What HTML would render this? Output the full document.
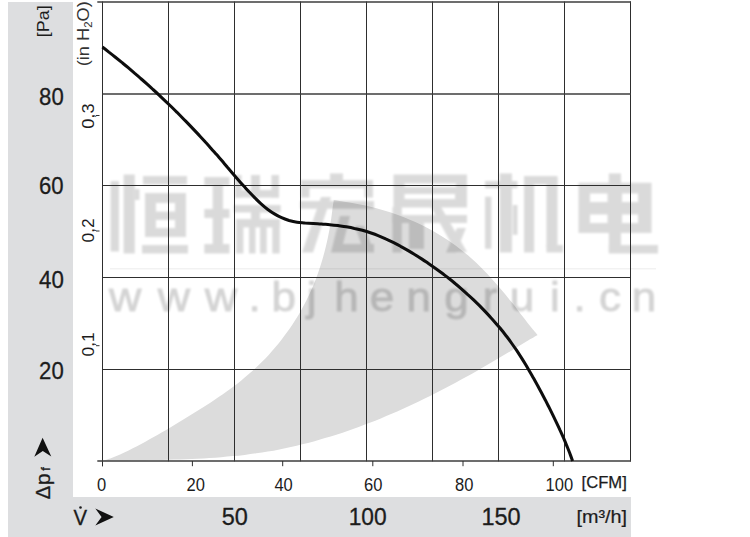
<!DOCTYPE html>
<html><head><meta charset="utf-8"><title>Fan curve</title>
<style>
html,body{margin:0;padding:0;background:#fff;}
body{width:750px;height:537px;overflow:hidden;font-family:"Liberation Sans",sans-serif;}
svg{display:block;}
text{font-family:"Liberation Sans",sans-serif;fill:#1c1c1c;}
</style></head><body>
<svg width="750" height="537" viewBox="0 0 750 537">
<defs>
<filter id="b1" x="-5%" y="-5%" width="110%" height="110%"><feGaussianBlur stdDeviation="1.2"/></filter>
<filter id="b2" x="-5%" y="-20%" width="110%" height="140%"><feGaussianBlur stdDeviation="1.0"/></filter>
</defs>
<rect width="750" height="537" fill="#fff"/>
<!-- gray L band -->
<path d="M8 2H73V497H631V537H8Z" fill="#dddee0"/>
<!-- shaded operating region -->
<path d="M102.5 461.0 C104.0 460.5 108.6 459.1 111.5 458.0 C114.4 456.9 117.2 455.6 120.1 454.4 C122.9 453.1 125.7 451.8 128.6 450.4 C131.4 449.0 134.2 447.6 137.0 446.2 C139.8 444.7 142.6 443.2 145.4 441.7 C148.2 440.2 151.0 438.6 153.7 437.1 C156.5 435.5 159.3 433.9 162.0 432.3 C164.8 430.7 167.5 429.1 170.3 427.4 C173.0 425.8 175.7 424.1 178.4 422.5 C181.2 420.8 183.9 419.2 186.6 417.5 C189.3 415.8 192.0 414.2 194.7 412.5 C197.4 410.8 200.1 409.2 202.8 407.5 C205.4 405.8 208.1 404.1 210.7 402.4 C213.4 400.6 216.0 398.9 218.6 397.1 C221.2 395.3 223.8 393.6 226.3 391.7 C228.9 389.9 231.4 388.0 233.9 386.2 C236.4 384.3 238.9 382.3 241.3 380.4 C243.8 378.4 246.2 376.4 248.5 374.3 C250.9 372.3 253.3 370.2 255.6 368.1 C257.9 365.9 260.1 363.7 262.3 361.5 C264.6 359.3 266.7 357.0 268.9 354.7 C271.0 352.4 273.1 350.0 275.1 347.6 C277.2 345.2 279.2 342.7 281.1 340.2 C283.1 337.7 285.0 335.2 286.8 332.6 C288.7 330.1 290.5 327.4 292.3 324.8 C294.0 322.2 295.7 319.5 297.4 316.8 C299.0 314.1 300.6 311.3 302.1 308.5 C303.7 305.8 305.1 303.0 306.6 300.1 C308.0 297.3 309.3 294.5 310.6 291.6 C311.9 288.7 313.2 285.8 314.4 282.9 C315.5 279.9 316.7 277.0 317.7 274.0 C318.8 271.0 319.8 268.0 320.7 265.0 C321.7 262.0 322.6 259.0 323.4 255.9 C324.3 252.9 325.1 249.8 325.8 246.8 C326.5 243.7 327.2 240.6 327.9 237.5 C328.5 234.4 329.1 231.3 329.7 228.2 C330.2 225.1 330.7 221.9 331.2 218.8 C331.6 215.7 332.0 212.5 332.4 209.4 C332.8 206.2 333.6 201.6 333.8 200.0 C335.5 200.3 340.7 201.1 344.2 201.7 C347.7 202.2 351.3 202.7 354.8 203.4 C358.3 204.0 361.8 204.7 365.3 205.5 C368.7 206.2 372.2 207.1 375.6 208.0 C379.0 208.9 382.4 209.9 385.8 210.9 C389.2 211.9 392.5 213.0 395.8 214.2 C399.1 215.4 402.4 216.6 405.7 217.9 C408.9 219.2 412.1 220.6 415.3 222.0 C418.5 223.5 421.6 225.0 424.7 226.6 C427.8 228.2 430.9 229.8 433.9 231.5 C437.0 233.3 440.0 235.0 442.9 236.9 C445.8 238.8 448.7 240.7 451.6 242.7 C454.4 244.7 457.3 246.7 460.0 248.9 C462.8 251.0 465.5 253.2 468.2 255.5 C470.8 257.8 473.4 260.1 476.0 262.5 C478.6 265.0 481.1 267.4 483.5 270.0 C486.0 272.5 488.4 275.1 490.8 277.7 C493.2 280.3 495.6 283.0 497.9 285.7 C500.2 288.3 502.5 291.1 504.8 293.8 C507.0 296.5 509.3 299.3 511.5 302.1 C513.7 304.8 515.9 307.6 518.0 310.4 C520.2 313.2 522.4 316.0 524.5 318.7 C526.6 321.5 528.7 324.3 530.9 327.0 C533.0 329.7 536.5 333.7 537.6 335.0 C535.9 336.0 530.6 339.0 527.2 341.0 C523.9 343.0 520.7 345.0 517.3 347.0 C514.0 349.1 510.7 351.1 507.3 353.1 C504.0 355.1 500.6 357.1 497.2 359.1 C493.8 361.1 490.5 363.1 487.0 365.0 C483.6 367.0 480.2 369.0 476.8 370.9 C473.3 372.9 469.9 374.8 466.4 376.7 C463.0 378.6 459.5 380.5 456.0 382.4 C452.5 384.3 449.0 386.2 445.5 388.0 C441.9 389.9 438.4 391.7 434.9 393.5 C431.3 395.3 427.8 397.1 424.2 398.8 C420.6 400.6 417.0 402.3 413.4 404.0 C409.9 405.7 406.2 407.3 402.6 409.0 C399.0 410.6 395.4 412.2 391.7 413.8 C388.1 415.3 384.4 416.9 380.8 418.4 C377.1 419.9 373.4 421.3 369.8 422.8 C366.1 424.2 362.4 425.6 358.7 427.0 C355.0 428.3 351.2 429.6 347.5 430.9 C343.8 432.2 340.0 433.5 336.3 434.7 C332.5 435.9 328.8 437.0 325.0 438.1 C321.2 439.3 317.5 440.3 313.7 441.4 C309.9 442.4 306.1 443.4 302.3 444.3 C298.5 445.3 294.7 446.2 290.9 447.0 C287.0 447.9 283.2 448.7 279.4 449.4 C275.5 450.2 271.7 450.9 267.8 451.5 C264.0 452.2 260.1 452.8 256.2 453.3 C252.4 453.9 248.5 454.4 244.6 454.9 C240.7 455.3 236.8 455.8 232.9 456.1 C229.0 456.5 225.1 456.9 221.2 457.2 C217.3 457.5 213.4 457.8 209.4 458.0 C205.5 458.3 201.6 458.5 197.6 458.7 C193.7 458.9 189.7 459.1 185.8 459.2 C181.8 459.4 177.9 459.5 173.9 459.6 C170.0 459.8 166.0 459.8 162.0 459.9 C158.0 460.0 154.1 460.1 150.1 460.1 C146.1 460.2 142.1 460.3 138.1 460.3 C134.1 460.4 130.1 460.4 126.1 460.5 C122.1 460.5 118.0 460.5 114.1 460.6 C110.2 460.7 104.4 460.9 102.5 461.0 Z" fill="#dcdcdc"/>
<!-- watermark -->
<g fill="#000" opacity="0.14" filter="url(#b1)"><rect x="110.6" y="181.0" width="8.4" height="70.5"/><rect x="123.6" y="174.5" width="11.2" height="79.0"/><rect x="134.8" y="189.0" width="4.7" height="11.0"/><rect x="143.0" y="176.0" width="44.0" height="8.5"/><rect x="142.0" y="245.0" width="46.0" height="8.5"/><rect x="204.3" y="177.0" width="25.2" height="8.5"/><rect x="204.3" y="209.0" width="25.2" height="9.0"/><rect x="204.3" y="244.0" width="25.2" height="9.5"/><rect x="212.7" y="177.0" width="10.3" height="75.5"/><rect x="235.0" y="175.0" width="6.5" height="22.6"/><rect x="251.0" y="175.0" width="9.0" height="22.6"/><rect x="271.4" y="175.0" width="7.6" height="22.6"/><rect x="235.0" y="190.0" width="44.0" height="7.6"/><rect x="234.0" y="205.0" width="46.7" height="7.5"/><rect x="251.0" y="212.0" width="9.0" height="8.0"/><rect x="236.0" y="219.0" width="43.7" height="8.4"/><rect x="236.0" y="219.0" width="7.4" height="34.5"/><rect x="249.0" y="219.0" width="6.5" height="34.5"/><rect x="260.0" y="219.0" width="6.7" height="34.5"/><rect x="272.3" y="219.0" width="7.4" height="34.5"/><rect x="330.0" y="173.4" width="13.0" height="7.6"/><rect x="301.0" y="180.0" width="72.0" height="8.3"/><rect x="301.0" y="188.0" width="8.5" height="9.6"/><rect x="364.5" y="188.0" width="8.5" height="9.6"/><rect x="300.0" y="201.0" width="74.0" height="7.8"/><rect x="392.5" y="207.0" width="9.3" height="45.5"/><rect x="392.5" y="215.0" width="74.5" height="8.0"/><rect x="409.0" y="223.0" width="15.0" height="26.0"/><rect x="485.0" y="181.0" width="32.5" height="7.3"/><rect x="499.8" y="173.4" width="12.2" height="79.1"/><rect x="485.0" y="196.7" width="6.4" height="52.1"/><rect x="512.8" y="205.0" width="4.7" height="29.8"/><rect x="524.0" y="176.0" width="33.5" height="8.5"/><rect x="524.0" y="178.0" width="10.2" height="74.5"/><rect x="546.4" y="178.0" width="11.1" height="69.0"/><rect x="546.4" y="245.0" width="16.6" height="7.5"/><rect x="608.8" y="173.4" width="12.2" height="12.1"/><rect x="608.8" y="233.0" width="12.2" height="19.5"/><rect x="608.8" y="245.0" width="49.2" height="8.5"/><path fill-rule="evenodd" d="M145 193H186V237H145Z M156 203H175V211.5H156Z M156 220H175V228H156Z"/><path d="M321 197H331L313 252.5H302Z"/><path d="M340 216H350L343 244H374V252.5H331Z"/><path d="M355 226H364L374 252H364Z"/><path fill-rule="evenodd" d="M393.5 174.5H467V207.5H393.5Z M404.5 183.5H456V187H404.5Z M404.5 194H455V199H404.5Z"/><path d="M431 207H441L467 252H456Z"/><path d="M457 228H466L456 252.5H446Z"/><path fill-rule="evenodd" d="M578.5 182.7H651.6V233H578.5Z M590 193.6H607.5V202H590Z M622 193.6H638V202H622Z M590 214.6H607.5V223H590Z M622 214.6H638V223H622Z"/></g>
<g font-size="40" text-anchor="middle" filter="url(#b2)" opacity="0.17" stroke="#000" stroke-width="0.9"><text style="fill:#000" transform="translate(125.2,310.6) scale(1.12,1)">w</text><text style="fill:#000" transform="translate(173.9,310.6) scale(1.12,1)">w</text><text style="fill:#000" transform="translate(220.9,310.6) scale(1.12,1)">w</text><text style="fill:#000" transform="translate(254.7,310.6) scale(1.10,1)">.</text><text style="fill:#000" transform="translate(283.7,310.6) scale(1.10,1)">b</text><text style="fill:#000" transform="translate(311.7,310.6) scale(1.10,1)">j</text><text style="fill:#000" transform="translate(346.6,310.6) scale(1.10,1)">h</text><text style="fill:#000" transform="translate(382.0,310.6) scale(1.10,1)">e</text><text style="fill:#000" transform="translate(418.7,310.6) scale(1.10,1)">n</text><text style="fill:#000" transform="translate(456.4,310.6) scale(1.10,1)">g</text><text style="fill:#000" transform="translate(490.2,310.6) scale(1.10,1)">r</text><text style="fill:#000" transform="translate(522.1,310.6) scale(1.10,1)">u</text><text style="fill:#000" transform="translate(555.0,310.6) scale(1.10,1)">i</text><text style="fill:#000" transform="translate(579.7,310.6) scale(1.10,1)">.</text><text style="fill:#000" transform="translate(610.1,310.6) scale(1.10,1)">c</text><text style="fill:#000" transform="translate(643.9,310.6) scale(1.10,1)">n</text></g>
<line x1="110" y1="268.8" x2="656" y2="268.8" stroke="#000" stroke-opacity="0.05" stroke-width="1.6"/>
<!-- grid -->
<g stroke="#2e2e2e" stroke-width="1"><line x1="102.5" y1="1.5" x2="102.5" y2="466.4"/><line x1="168.5" y1="1.5" x2="168.5" y2="461.4"/><line x1="234.5" y1="1.5" x2="234.5" y2="461.4"/><line x1="300.5" y1="1.5" x2="300.5" y2="461.4"/><line x1="366.5" y1="1.5" x2="366.5" y2="461.4"/><line x1="432.5" y1="1.5" x2="432.5" y2="461.4"/><line x1="498.5" y1="1.5" x2="498.5" y2="461.4"/><line x1="564.5" y1="1.5" x2="564.5" y2="461.4"/><line x1="630.5" y1="1.5" x2="630.5" y2="461.4"/><line x1="97.3" y1="2.0" x2="631" y2="2.0" stroke-width="1.5" stroke="#3c3c3c"/><line x1="102.5" y1="94.0" x2="631" y2="94.0" stroke-width="1.5" stroke="#3c3c3c"/><line x1="102.5" y1="185.5" x2="631" y2="185.5"/><line x1="102.5" y1="277.5" x2="631" y2="277.5"/><line x1="102.5" y1="369.5" x2="631" y2="369.5"/><line x1="97.3" y1="461.0" x2="631" y2="461.0" stroke-width="1.5" stroke="#3c3c3c"/><line x1="192.4" y1="461" x2="192.4" y2="466.2"/><line x1="282.7" y1="461" x2="282.7" y2="466.2"/><line x1="372.8" y1="461" x2="372.8" y2="466.2"/><line x1="463.0" y1="461" x2="463.0" y2="466.2"/><line x1="553.3" y1="461" x2="553.3" y2="466.2"/><line x1="96" y1="115.5" x2="99.5" y2="115.5"/><line x1="96" y1="231.0" x2="99.5" y2="231.0"/><line x1="96" y1="345.7" x2="99.5" y2="345.7"/></g>
<!-- fan curve -->
<path d="M102.4 47.0 C103.5 47.8 106.8 50.4 108.9 52.1 C111.1 53.8 113.3 55.5 115.4 57.2 C117.6 59.0 119.7 60.7 121.8 62.4 C124.0 64.2 126.1 65.9 128.2 67.7 C130.3 69.5 132.4 71.3 134.5 73.1 C136.6 74.8 138.7 76.6 140.7 78.5 C142.8 80.3 144.9 82.1 146.9 83.9 C149.0 85.8 151.0 87.6 153.0 89.5 C155.1 91.3 157.1 93.2 159.1 95.1 C161.1 97.0 163.1 98.9 165.1 100.8 C167.1 102.7 169.1 104.6 171.1 106.5 C173.0 108.4 175.0 110.4 177.0 112.3 C178.9 114.3 180.9 116.2 182.8 118.2 C184.7 120.2 186.7 122.1 188.6 124.1 C190.5 126.1 192.4 128.1 194.3 130.1 C196.2 132.1 198.1 134.2 200.0 136.2 C201.9 138.2 203.8 140.3 205.6 142.3 C207.5 144.3 209.3 146.4 211.1 148.4 C213.0 150.5 214.8 152.6 216.6 154.6 C218.4 156.7 220.2 158.7 222.0 160.8 C223.7 162.9 225.5 164.9 227.2 167.0 C229.0 169.1 230.8 171.2 232.5 173.2 C234.3 175.3 236.1 177.4 237.9 179.4 C239.7 181.5 241.5 183.6 243.3 185.6 C245.2 187.7 247.1 189.7 249.0 191.8 C250.9 193.8 252.9 195.9 254.9 197.9 C256.9 199.9 258.9 201.9 261.1 203.8 C263.2 205.7 265.3 207.5 267.5 209.2 C269.8 210.9 272.0 212.5 274.4 213.9 C276.7 215.3 279.1 216.6 281.6 217.7 C284.0 218.8 286.6 219.7 289.1 220.5 C291.7 221.2 294.3 221.8 297.0 222.2 C299.7 222.6 302.4 222.8 305.1 223.1 C307.8 223.3 310.5 223.4 313.3 223.5 C316.0 223.7 318.7 223.8 321.5 224.0 C324.2 224.2 327.0 224.5 329.8 224.7 C332.5 225.0 335.3 225.3 338.0 225.6 C340.8 226.0 343.5 226.3 346.2 226.8 C349.0 227.3 351.7 227.8 354.4 228.4 C357.1 228.9 359.8 229.6 362.4 230.3 C365.1 231.1 367.7 231.9 370.3 232.8 C372.9 233.7 375.5 234.6 378.1 235.6 C380.6 236.6 383.2 237.7 385.7 238.9 C388.2 240.0 390.7 241.2 393.2 242.4 C395.7 243.6 398.2 244.9 400.6 246.3 C403.0 247.6 405.5 249.0 407.8 250.4 C410.2 251.8 412.6 253.2 415.0 254.7 C417.3 256.1 419.7 257.6 422.0 259.1 C424.3 260.6 426.6 262.2 428.8 263.7 C431.1 265.3 433.4 266.9 435.6 268.5 C437.8 270.1 440.0 271.7 442.2 273.3 C444.4 275.0 446.6 276.6 448.7 278.3 C450.9 280.0 453.0 281.7 455.1 283.5 C457.2 285.2 459.3 287.0 461.4 288.8 C463.4 290.6 465.5 292.4 467.5 294.3 C469.6 296.1 471.6 298.0 473.6 299.9 C475.5 301.8 477.5 303.7 479.5 305.6 C481.4 307.6 483.4 309.6 485.3 311.6 C487.2 313.6 489.1 315.6 490.9 317.7 C492.8 319.7 494.6 321.8 496.4 323.9 C498.2 326.0 500.0 328.2 501.8 330.3 C503.5 332.5 505.2 334.6 506.9 336.8 C508.6 339.0 510.2 341.2 511.8 343.5 C513.4 345.7 515.0 348.0 516.5 350.2 C518.0 352.5 519.5 354.8 521.0 357.1 C522.5 359.4 523.9 361.7 525.3 364.1 C526.7 366.4 528.1 368.8 529.5 371.2 C530.9 373.5 532.2 375.9 533.6 378.3 C534.9 380.7 536.2 383.1 537.6 385.5 C538.9 388.0 540.2 390.4 541.5 392.8 C542.8 395.3 544.1 397.7 545.4 400.2 C546.6 402.7 547.9 405.1 549.2 407.6 C550.4 410.1 551.7 412.6 552.9 415.1 C554.1 417.6 555.3 420.1 556.5 422.6 C557.7 425.1 558.9 427.6 560.0 430.1 C561.2 432.6 562.3 435.2 563.4 437.7 C564.5 440.2 565.5 442.7 566.6 445.3 C567.6 447.8 568.6 450.2 569.6 452.8 C570.6 455.5 572.1 459.6 572.6 461.0" fill="none" stroke="#0d0d0d" stroke-width="3.05" stroke-linecap="butt"/>
<!-- Pa labels -->
<g font-size="23.5" text-anchor="middle" stroke="#1c1c1c" stroke-width="0.3">
<text x="51.4" y="104.9" textLength="24.6" lengthAdjust="spacingAndGlyphs">80</text><text x="51.3" y="193.8" textLength="24.6" lengthAdjust="spacingAndGlyphs">60</text><text x="51.4" y="287.6" textLength="24.8" lengthAdjust="spacingAndGlyphs">40</text><text x="51.4" y="379.1" textLength="24.6" lengthAdjust="spacingAndGlyphs">20</text>
</g>
<g font-size="23.5" text-anchor="middle" stroke="#1c1c1c" stroke-width="0.3">
<text x="234.8" y="525.4">50</text><text x="367.7" y="525.4" textLength="38" lengthAdjust="spacingAndGlyphs">100</text><text x="501" y="525.4">150</text>
</g>
<g font-size="17.6" text-anchor="middle" style="fill:#2a2a2a"><text x="101.7" y="490.9" textLength="9.2" lengthAdjust="spacingAndGlyphs">0</text><text x="195.7" y="490.9" textLength="18.4" lengthAdjust="spacingAndGlyphs">20</text><text x="283.6" y="490.9" textLength="18.4" lengthAdjust="spacingAndGlyphs">40</text><text x="373.2" y="490.9" textLength="18.4" lengthAdjust="spacingAndGlyphs">60</text><text x="464.2" y="490.9" textLength="18.4" lengthAdjust="spacingAndGlyphs">80</text><text x="559.4" y="490.9" textLength="27.6" lengthAdjust="spacingAndGlyphs">100</text></g>
<text x="581.6" y="488.2" font-size="16.7" textLength="45.2" lengthAdjust="spacingAndGlyphs" stroke="#1c1c1c" stroke-width="0.25">[CFM]</text>
<text x="576.4" y="523.3" font-size="17.5" textLength="50.6" lengthAdjust="spacingAndGlyphs" stroke="#1c1c1c" stroke-width="0.2">[m³/h]</text>
<!-- rotated labels -->
<text transform="translate(49.4,37.2) rotate(-90)" font-size="17" textLength="32" lengthAdjust="spacingAndGlyphs">[Pa]</text>
<text style="fill:#333" transform="translate(88.5,66.3) rotate(-90)" font-size="16" textLength="65" lengthAdjust="spacingAndGlyphs">(in H<tspan font-size="10" dy="3">2</tspan><tspan dy="-3">O)</tspan></text>
<text transform="translate(94.3,128.8) rotate(-90)" font-size="16" textLength="25.4" lengthAdjust="spacingAndGlyphs">0,3</text>
<text transform="translate(94.3,242.4) rotate(-90)" font-size="16" textLength="24.2" lengthAdjust="spacingAndGlyphs">0,2</text>
<text transform="translate(94.3,356.4) rotate(-90)" font-size="16" textLength="24.2" lengthAdjust="spacingAndGlyphs">0,1</text>
<text transform="translate(49.6,499.2) rotate(-90)" font-size="20" stroke="#1c1c1c" stroke-width="0.3">Δ<tspan dx="0.6" textLength="11.8" lengthAdjust="spacingAndGlyphs">p</tspan><tspan font-size="12.6" dx="2.6">f</tspan></text>
<text x="73.5" y="525.3" font-size="21.4" stroke="#1c1c1c" stroke-width="0.3" textLength="13.6" lengthAdjust="spacingAndGlyphs">V</text>
<circle cx="80.5" cy="507.5" r="1.3" fill="#1c1c1c"/>
<!-- arrows -->
<path d="M42.6 437.8L51.3 456.5L42.8 451L34.3 456.8Z" fill="#111"/>
<path d="M113.8 517L95.3 508.6L101.6 517L95.3 525.4Z" fill="#111"/>
</svg>
</body></html>
